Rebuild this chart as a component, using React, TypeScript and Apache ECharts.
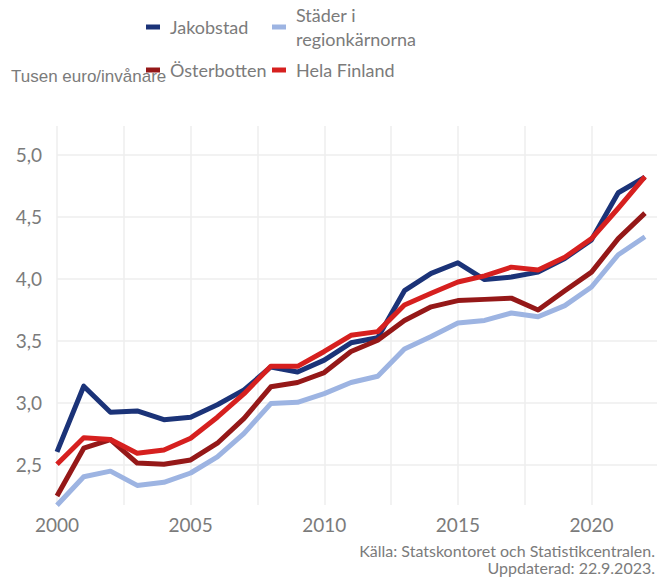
import React, { useEffect, useRef } from "react";
import * as echarts from "echarts";

const years = [2000, 2001, 2002, 2003, 2004, 2005, 2006, 2007, 2008, 2009, 2010, 2011, 2012, 2013, 2014, 2015, 2016, 2017, 2018, 2019, 2020, 2021, 2022];
const jakobstad = [2.6, 3.13, 2.92, 2.93, 2.86, 2.88, 2.98, 3.1, 3.285, 3.245, 3.34, 3.48, 3.52, 3.9, 4.04, 4.125, 3.99, 4.01, 4.05, 4.16, 4.31, 4.69, 4.815];
const osterbotten = [2.245, 2.63, 2.7, 2.51, 2.5, 2.535, 2.67, 2.87, 3.125, 3.16, 3.24, 3.41, 3.5, 3.66, 3.77, 3.82, 3.83, 3.84, 3.745, 3.9, 4.05, 4.32, 4.525];
const stader = [2.17, 2.4, 2.445, 2.33, 2.355, 2.43, 2.56, 2.75, 2.99, 3.0, 3.07, 3.16, 3.21, 3.43, 3.53, 3.64, 3.66, 3.72, 3.69, 3.78, 3.93, 4.19, 4.335];
const helaFinland = [2.5, 2.715, 2.7, 2.59, 2.615, 2.71, 2.88, 3.07, 3.29, 3.29, 3.41, 3.54, 3.57, 3.785, 3.88, 3.97, 4.02, 4.09, 4.067, 4.17, 4.32, 4.565, 4.82];

const seriesNames = ["Jakobstad", "Österbotten", "Städer i regionkärnorna", "Hela Finland"];
const seriesColors = ["#1b3378", "#951818", "#9db4e2", "#d6201f"];
const seriesData = [jakobstad, osterbotten, stader, helaFinland];
const drawOrder = [2, 1, 0, 3];

const yTitle = "Tusen euro/invånare";
const captionLines = ["Källa: Statskontoret och Statistikcentralen.", "Uppdaterad: 22.9.2023."];

const FONT = "Lato, 'Open Sans', sans-serif";
const GRAY = "#7b7b7b";

export default function App() {
  const ref = useRef<HTMLDivElement>(null);
  useEffect(() => {
    if (!ref.current) return;
    const chart = echarts.init(ref.current, null, { renderer: "svg" });
    const legendPos = [
      { name: seriesNames[0], left: 146, top: 15 },
      { name: seriesNames[2], left: 272, top: 3 },
      { name: seriesNames[1], left: 146, top: 58 },
      { name: seriesNames[3], left: 272, top: 58 },
    ];
    chart.setOption({
      animation: false,
      backgroundColor: "#ffffff",
      grid: { left: 57, right: 9, top: 126, bottom: 74, containLabel: false },
      xAxis: {
        type: "value",
        min: 2000,
        max: 2022.45,
        minInterval: 2.5,
        maxInterval: 2.5,
        axisLine: { show: false },
        axisTick: { show: false },
        axisLabel: {
          color: GRAY,
          fontFamily: FONT,
          fontSize: 19,
          margin: 10,
          showMaxLabel: false,
          formatter: (v: number) => (Math.abs(v % 5) < 1e-6 ? String(v) : ""),
        },
        splitLine: { show: true, showMaxLine: false, lineStyle: { color: "#eeeeee", width: 1.5 } },
      },
      yAxis: {
        type: "value",
        min: 2.172,
        max: 5.228,
        minInterval: 0.5,
        maxInterval: 0.5,
        axisLine: { show: false },
        axisTick: { show: false },
        axisLabel: {
          color: GRAY,
          fontFamily: FONT,
          fontSize: 19,
          margin: 15,
          showMinLabel: false,
          showMaxLabel: false,
          formatter: (v: number) => v.toFixed(1).replace(".", ","),
        },
        splitLine: { show: true, showMinLine: false, showMaxLine: false, lineStyle: { color: "#eeeeee", width: 1.5 } },
      },
      legend: legendPos.map((p) => ({
        data: [p.name],
        left: p.left,
        top: p.top,
        icon: "rect",
        itemWidth: 14,
        itemHeight: 5,
        padding: 0,
        selectedMode: false,
        formatter: (n: string) => (n === "Städer i regionkärnorna" ? "Städer i\nregionkärnorna" : n),
        textStyle: { color: GRAY, fontFamily: FONT, fontSize: 18, lineHeight: 24, padding: [0, 0, 0, 5] },
      })),
      graphic: [
        {
          type: "text",
          left: 11,
          top: 68,
          style: { text: yTitle, fill: GRAY, font: "17px 'Liberation Sans', Arial, sans-serif" },
        },
        ...captionLines.map((line, i) => ({
          type: "text",
          right: 11,
          top: 542 + i * 17.5,
          style: { text: line, fill: GRAY, fontFamily: FONT, fontSize: 16, lineHeight: 16 },
        })),
      ],
      series: drawOrder.map((i) => ({
        type: "line",
        name: seriesNames[i],
        data: years.map((y, k) => [y, seriesData[i][k]]),
        showSymbol: false,
        symbol: "none",
        lineStyle: { color: seriesColors[i], width: 5, join: "round" },
        itemStyle: { color: seriesColors[i] },
        z: 2 + i,
      })),
    });
    return () => chart.dispose();
  }, []);
  return <div ref={ref} style={{ position: "fixed", left: 0, top: 0, width: 666, height: 579 }} />;
}
